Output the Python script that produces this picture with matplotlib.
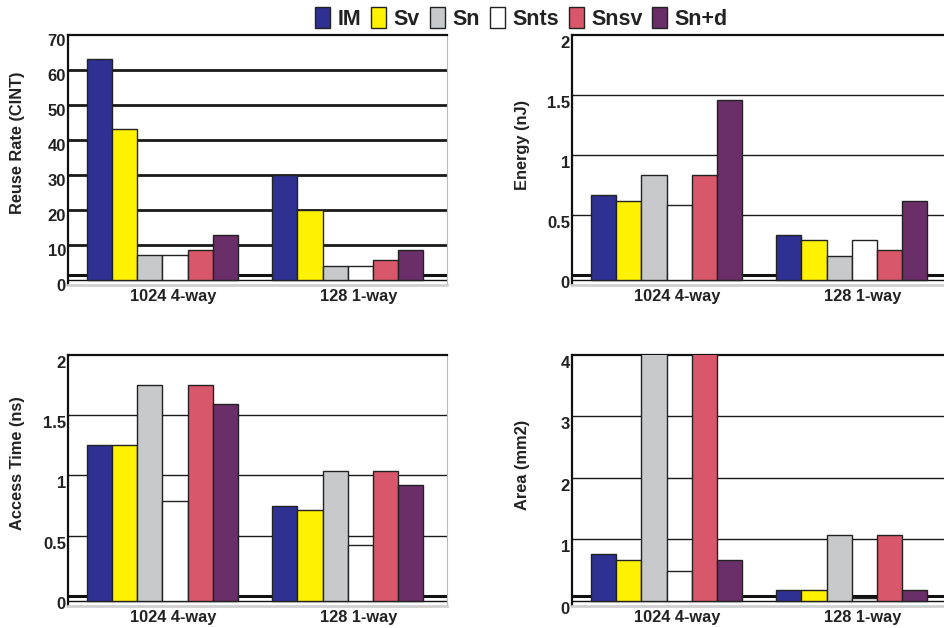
import matplotlib.pyplot as plt
import matplotlib.transforms as mtransforms
from matplotlib.patches import Patch

plt.rcParams['font.family'] = ['Liberation Sans', 'DejaVu Sans']
plt.rcParams['font.weight'] = 'bold'

series = ["IM", "Sv", "Sn", "Snts", "Snsv", "Sn+d"]
colors = ["#2E3192", "#FFF200", "#C8C9CB", "#FFFFFF", "#D9576B", "#6A2E68"]
configs = ["1024 4-way", "128 1-way"]

# one [1024 4-way, 128 1-way] pair per series
reuse_rate = [[63, 30], [43, 20], [7, 4.1], [7, 4.1], [8.5, 5.6], [12.8, 8.5]]
energy = [[0.67, 0.33], [0.62, 0.29], [0.83, 0.16], [0.58, 0.29], [0.83, 0.21], [1.46, 0.62]]
access_time = [[1.25, 0.75], [1.25, 0.71], [1.75, 1.04], [0.79, 0.42], [1.75, 1.04], [1.59, 0.92]]
area = [[0.76, 0.17], [0.67, 0.17], [4.6, 1.08], [0.49, 0.05], [4.6, 1.08], [0.67, 0.17]]

W, H = 945, 628
fig = plt.figure(figsize=(W / 100, H / 100), dpi=100)


def make_axes(x0, y_top, y_bot, width=379):
    return fig.add_axes([x0 / W, 1 - y_bot / H, width / W, (y_bot - y_top) / H])


def draw_panel(ax, data, label, ymin, ymax, ticks, ticklabels, grid, grid_lw,
               base, thick, label_x, label_y, tick_shift=7):
    group_centers = [3.75, 11.1]
    for i, vals in enumerate(data):
        xs = [c + i - 2.5 for c in group_centers]
        ax.bar(xs, [v - base for v in vals], bottom=base, width=1.0,
               color=colors[i], edgecolor="#222222", linewidth=1.0, zorder=3)
    for g in grid:
        ax.axhline(g, color="#1a1a1a", lw=grid_lw, zorder=1)
    ax.axhline(thick, color="#111111", lw=2.2, zorder=1)
    ax.axhline(base, color="#111111", lw=1.0, zorder=2)
    ax.set_xlim(0, 379 / 25.2)
    ax.set_ylim(ymin, ymax)
    ax.set_xticks([c + 0.42 for c in group_centers])
    ax.set_xticklabels(configs, fontsize=11.8, fontweight='bold', color="#222222")
    ax.set_yticks(ticks)
    ax.set_yticklabels(ticklabels, fontsize=12, fontweight='bold', color="#222222")
    ax.tick_params(axis="y", length=0, pad=1.5)
    ax.tick_params(axis="x", length=0, pad=3)
    shift = mtransforms.ScaledTranslation(0, -tick_shift / 100, fig.dpi_scale_trans)
    for t in ax.get_yticklabels():
        t.set_transform(t.get_transform() + shift)
    for s in ["top", "left"]:
        ax.spines[s].set_linewidth(1.6)
        ax.spines[s].set_color("#111111")
    ax.spines["right"].set_color("#bbbbbb")
    ax.spines["bottom"].set_color("#d0d0d0")
    ax.spines["bottom"].set_linewidth(2)
    fig.text(label_x / W, 1 - label_y / H, label, rotation=90, ha="center",
             va="center", fontsize=11.8, fontweight="bold", color="#222222")


ax1 = make_axes(68, 35, 285)
draw_panel(ax1, reuse_rate, "Reuse Rate (CINT)", -1.43, 70, range(0, 80, 10),
           [str(v) for v in range(0, 80, 10)], range(10, 70, 10), 2.0,
           0, 1.43, 18, 143, tick_shift=5)

ax2 = make_axes(572, 35, 285)
draw_panel(ax2, energy, "Energy (nJ)", -0.083, 2, [0, 0.5, 1, 1.5, 2],
           ["0", "0.5", "1", "1.5", "2"], [0.5, 1, 1.5], 1.0,
           -0.042, 0, 523, 145)

ax3 = make_axes(68, 355, 606)
draw_panel(ax3, access_time, "Access Time (ns)", -0.083, 2, [0, 0.5, 1, 1.5, 2],
           ["0", "0.5", "1", "1.5", "2"], [0.5, 1, 1.5], 1.0,
           -0.042, 0, 18, 463)

ax4 = make_axes(572, 355, 606)
draw_panel(ax4, area, "Area (mm2)", -0.083, 4, [0, 1, 2, 3, 4],
           ["0", "1", "2", "3", "4"], [1, 2, 3], 1.0,
           0, 0.083, 523, 465)

handles = [Patch(facecolor=c, edgecolor="#222222", linewidth=1.0) for c in colors]
fig.legend(handles, series, loc="center", bbox_to_anchor=(0.552, 0.971), ncol=6,
           frameon=False, prop={"size": 15.5, "weight": "bold"},
           handlelength=0.7, handleheight=1.1, handletextpad=0.35,
           columnspacing=0.45, borderaxespad=0, labelcolor="#222222")

fig.savefig("out.png", dpi=100)
